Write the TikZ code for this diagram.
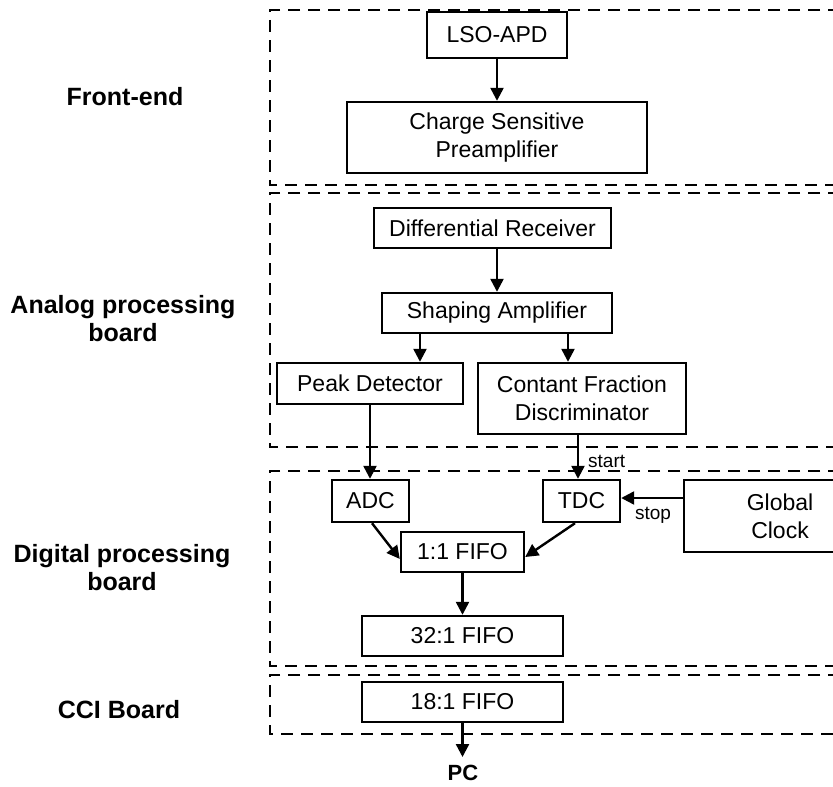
\documentclass[tikz,border=0pt]{standalone}
\usepackage{fontspec}
\setmainfont{Liberation Sans}
\usetikzlibrary{arrows.meta,calc}
\begin{document}
\begin{tikzpicture}[x=1pt,y=-1pt,
  box/.style={draw, line width=2.4pt, inner sep=0pt, align=center, font=\fontsize{23}{28}\selectfont},
  arr/.style={line width=2.4pt, -{Triangle[length=13pt,width=13pt]}},
  region/.style={line width=2.4pt, dash pattern=on 12pt off 8pt},
  lab/.style={font=\bfseries\fontsize{25}{28}\selectfont, align=center, inner sep=0pt},
  small/.style={font=\fontsize{19}{22}\selectfont, inner sep=0pt}]
\useasboundingbox (0,0) rectangle (833,787);
\fill[white] (0,0) rectangle (833,787);
\clip (0,0) rectangle (833,787);

% regions
\draw[region] (900,10) -| (270,185) -- (900,185);
\draw[region] (900,193) -| (270,447) -- (900,447);
\draw[region] (900,471) -| (270,666) -- (900,666);
\draw[region] (900,675) -| (270,734) -- (900,734);

% left labels
\node[lab] (lfe) at (125,97) {Front-end};
\node[lab] (lan) at (123,319) {Analog processing\\board};
\node[lab] (ldg) at (122,568) {Digital processing\\board};
\node[lab] (lcc) at (119,710) {CCI Board};

% boxes
\node[box, minimum width=140pt, minimum height=46pt] (lso) at (497,35) {LSO-APD};
\node[box, minimum width=300pt, minimum height=71pt] (csp) at (497,137.5) {Charge Sensitive\\Preamplifier};
\node[box, minimum width=237pt, minimum height=40pt] (dr) at (492.5,228) {Differential Receiver};
\node[box, minimum width=230pt, minimum height=40pt] (sa) at (497,313) {Shaping Amplifier};
\node[box, minimum width=186pt, minimum height=41pt] (pd) at (370,383.5) {Peak Detector};
\node[box, minimum width=208pt, minimum height=71pt] (cfd) at (582,398.5) {Contant Fraction\\Discriminator};
\node[box, minimum width=77pt, minimum height=42pt] (adc) at (370.5,501) {ADC};
\node[box, minimum width=77pt, minimum height=42pt] (tdc) at (581.5,501) {TDC};
\node[box, minimum width=192pt, minimum height=72pt] (gc) at (780,516) {Global\\Clock};
\node[box, minimum width=123pt, minimum height=40pt] (f11) at (462.5,552) {1:1 FIFO};
\node[box, minimum width=201pt, minimum height=40pt] (f32) at (462.5,636) {32:1 FIFO};
\node[box, minimum width=201pt, minimum height=40pt] (f18) at (462.5,702) {18:1 FIFO};
\node[font=\bfseries\fontsize{22}{26}\selectfont, inner sep=0pt] (pc) at (463,773) {PC};

% helper coordinates
\coordinate (xa) at (497,0);
\coordinate (x1) at (420,0);
\coordinate (x2) at (568,0);
\coordinate (x3) at (578,0);
\coordinate (y4) at (0,498);
\coordinate (x5) at (372,0);
\coordinate (x6) at (575,0);
\coordinate (y7) at (0,757);

% connectors
\draw[arr] (lso.south -| xa) -- (csp.north -| xa);
\draw[arr] (dr.south -| xa) -- (sa.north -| xa);
\draw[arr] (sa.south -| x1) -- (pd.north -| x1);
\draw[arr] (sa.south -| x2) -- (cfd.north -| x2);
\draw[arr] (pd.south) -- (pd.south |- adc.north);
\draw[arr] (cfd.south -| x3) -- (tdc.north -| x3);
\node[small, anchor=west] (start) at (588,461) {start};
\draw[arr] (gc.west |- y4) -- (tdc.east |- y4);
\node[small] (stop) at (653,515) {stop};
\draw[arr] (adc.south -| x5) -- ($(f11.west)+(0,7)$);
\draw[arr] (tdc.south -| x6) -- ($(f11.east)+(0,5)$);
\draw[arr] (f11.south) -- (f32.north);
\draw[arr] (f18.south) -- (f18.south |- y7);
\end{tikzpicture}
\end{document}
